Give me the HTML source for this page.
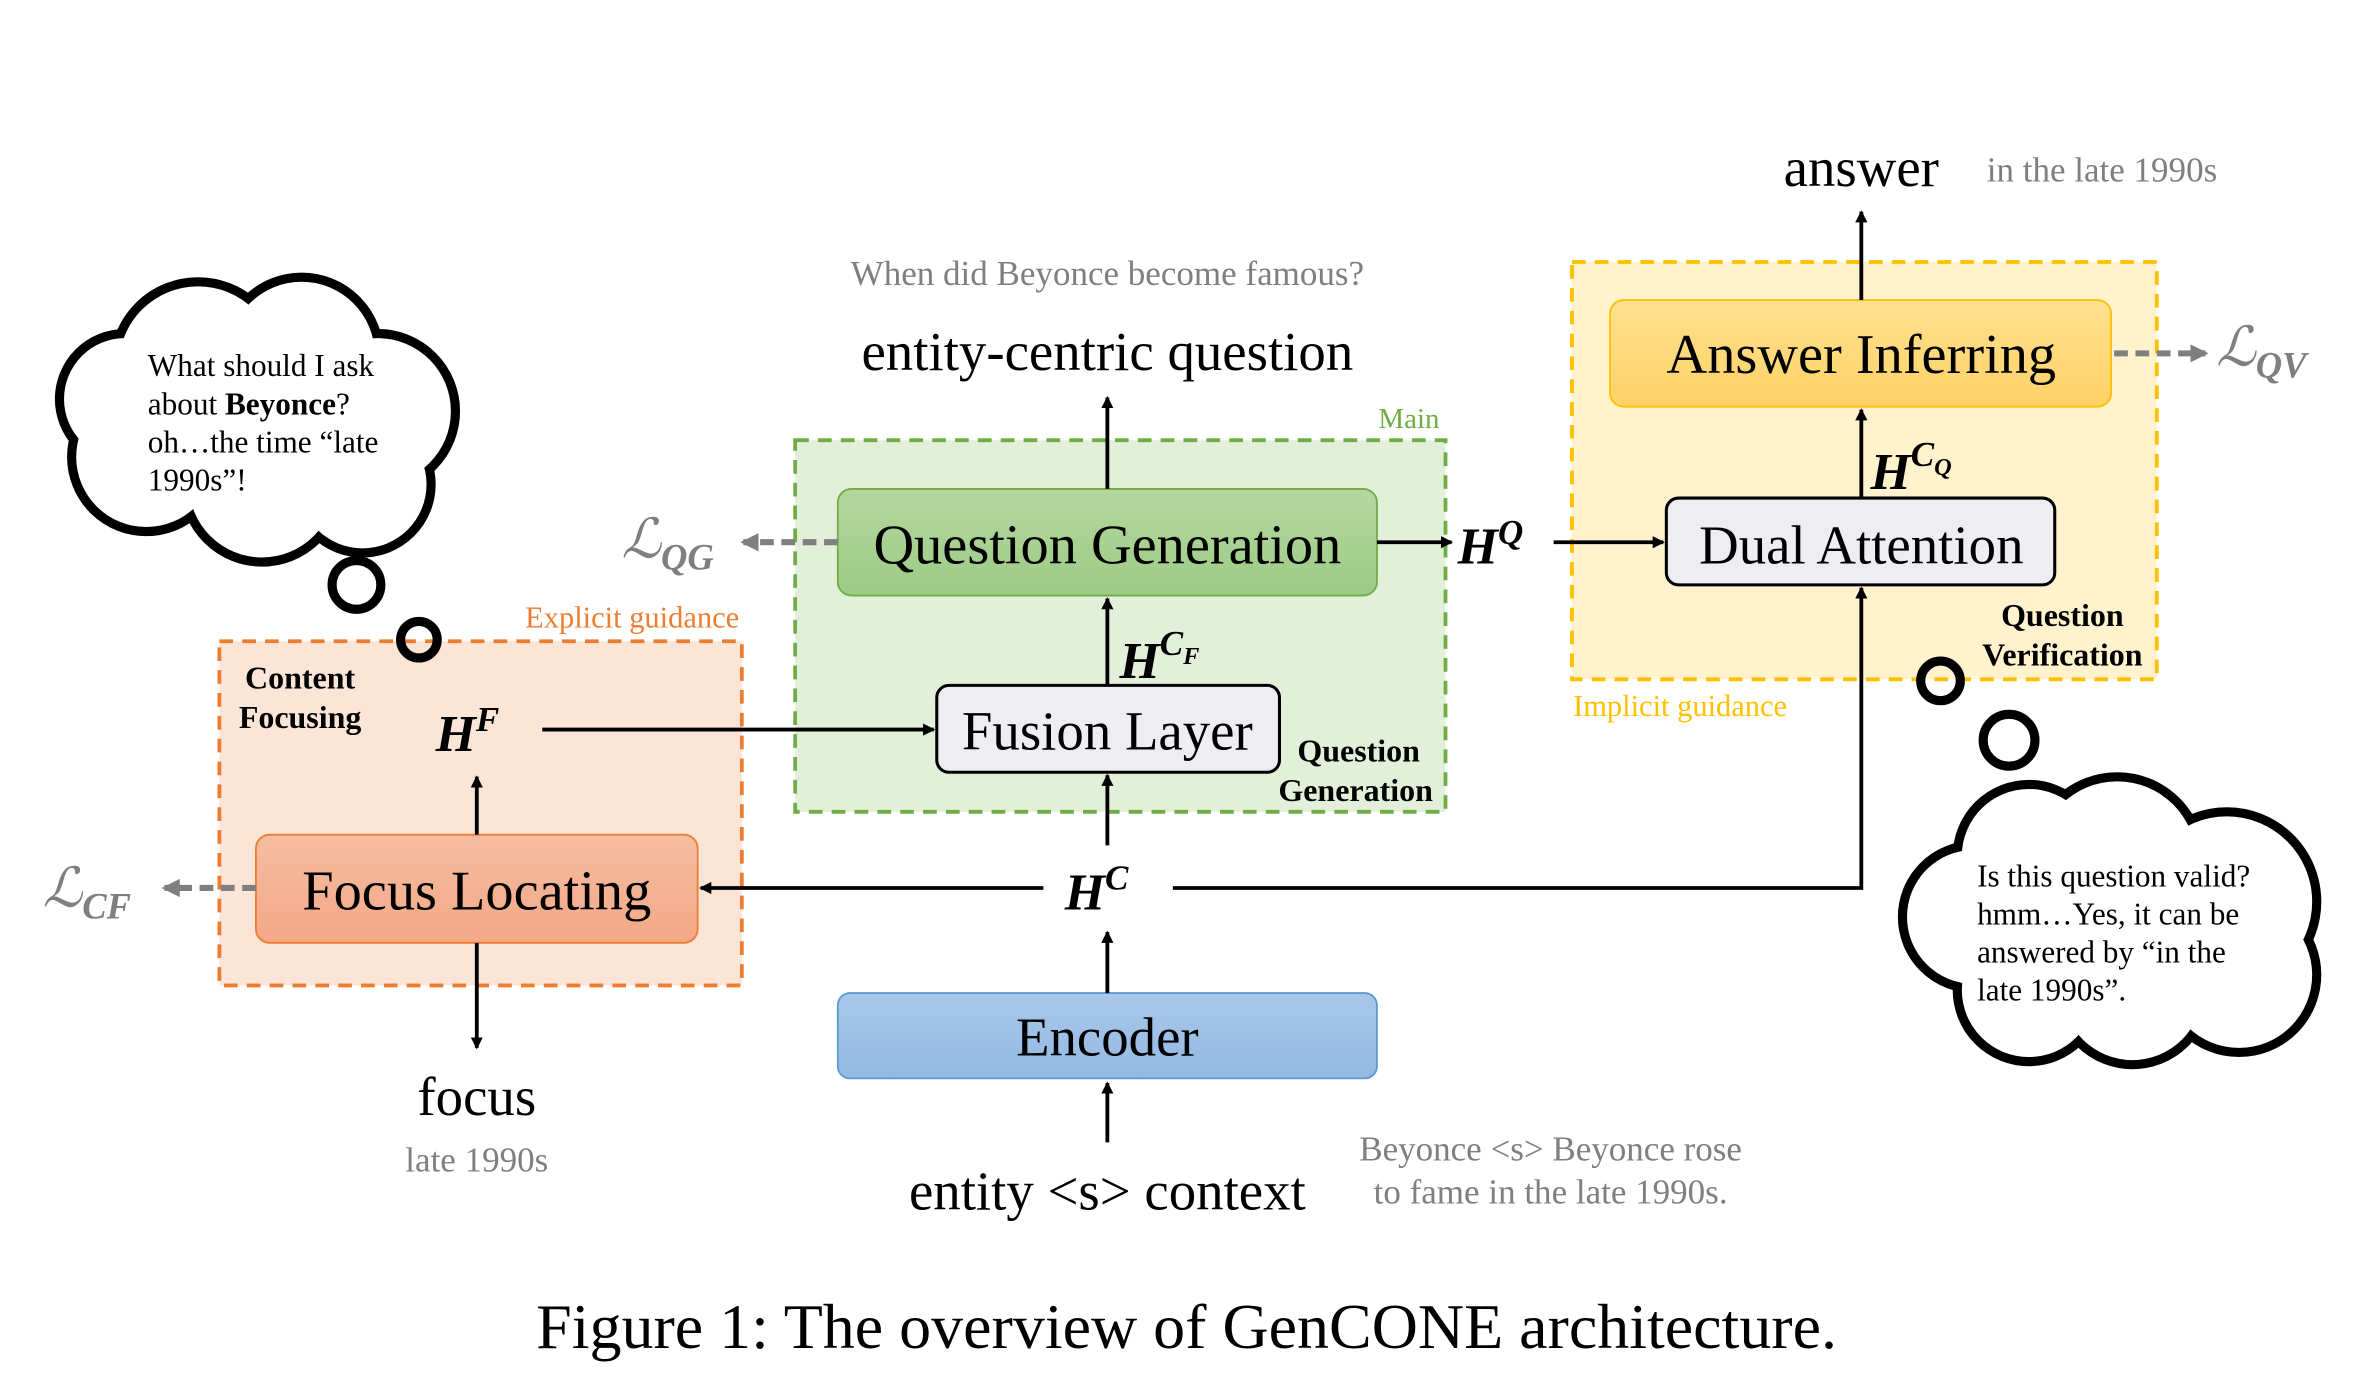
<!DOCTYPE html>
<html><head><meta charset="utf-8"><style>
html,body{margin:0;padding:0;background:#fff;}
svg{display:block;}
text{font-family:"Liberation Serif",serif;}
</style></head><body>
<svg width="2364" height="1383" viewBox="0 0 1552 908" xmlns="http://www.w3.org/2000/svg">
<defs>
<marker id="a" markerWidth="8" markerHeight="8" refX="7" refY="4" orient="auto" markerUnits="userSpaceOnUse"><path d="M0,0 L8,4 L0,8 z" fill="#000"/></marker>
<marker id="g" markerWidth="12" markerHeight="12" refX="10" refY="6" orient="auto" markerUnits="userSpaceOnUse"><path d="M0,0 L12,6 L0,12 z" fill="#7f7f7f"/></marker>
<linearGradient id="gq" x1="0" y1="0" x2="0" y2="1"><stop offset="0" stop-color="#b5d7a0"/><stop offset="1" stop-color="#9ccb84"/></linearGradient>
<linearGradient id="go" x1="0" y1="0" x2="0" y2="1"><stop offset="0" stop-color="#f5bda2"/><stop offset="1" stop-color="#f4a886"/></linearGradient>
<linearGradient id="gb" x1="0" y1="0" x2="0" y2="1"><stop offset="0" stop-color="#a9c8ea"/><stop offset="1" stop-color="#93b8e2"/></linearGradient>
<linearGradient id="gy" x1="0" y1="0" x2="0" y2="1"><stop offset="0" stop-color="#ffe08f"/><stop offset="1" stop-color="#ffd266"/></linearGradient>
</defs>

<rect x="522" y="289" width="427" height="244" fill="#e2efd9" stroke="#70ad47" stroke-width="2.5" stroke-dasharray="9,6"/>
<rect x="144" y="421" width="343" height="226" fill="#fbe5d6" stroke="#ed7d31" stroke-width="2.5" stroke-dasharray="9,6"/>
<rect x="1032" y="172" width="384" height="274" fill="#fff2cc" stroke="#ffc000" stroke-width="2.5" stroke-dasharray="9,6"/>

<text x="925" y="281" font-size="19" fill="#70ad47" text-anchor="middle">Main</text>
<text x="415" y="412" font-size="20" fill="#ed7d31" text-anchor="middle">Explicit guidance</text>
<text x="1103" y="470" font-size="20" fill="#ffc000" text-anchor="middle">Implicit guidance</text>

<rect x="550" y="321" width="354" height="70" rx="9" fill="url(#gq)" stroke="#70ad47" stroke-width="1.2"/>
<text x="727" y="370" font-size="37" text-anchor="middle">Question Generation</text>
<rect x="615" y="450" width="225" height="57" rx="8" fill="#eeedf2" stroke="#000" stroke-width="2"/>
<text x="727" y="492" font-size="36" text-anchor="middle">Fusion Layer</text>
<rect x="168" y="548" width="290" height="71" rx="9" fill="url(#go)" stroke="#ed7d31" stroke-width="1.2"/>
<text x="313" y="597" font-size="37" text-anchor="middle">Focus Locating</text>
<rect x="550" y="652" width="354" height="56" rx="8" fill="url(#gb)" stroke="#5b9bd5" stroke-width="1.2"/>
<text x="727" y="693" font-size="36" text-anchor="middle">Encoder</text>
<rect x="1057" y="197" width="329" height="70" rx="9" fill="url(#gy)" stroke="#ffc000" stroke-width="1.2"/>
<text x="1222" y="245" font-size="37" text-anchor="middle">Answer Inferring</text>
<rect x="1094" y="327" width="255" height="57" rx="8" fill="#eeedf2" stroke="#000" stroke-width="2"/>
<text x="1222" y="370" font-size="36" text-anchor="middle">Dual Attention</text>

<g font-size="21" font-weight="bold" text-anchor="middle">
<text x="197" y="452">Content</text><text x="197" y="478">Focusing</text>
<text x="892" y="500">Question</text><text x="890" y="526">Generation</text>
<text x="1354" y="411">Question</text><text x="1354" y="437">Verification</text>
</g>

<g font-weight="bold" font-style="italic" font-size="34">
<text x="286" y="493">H<tspan font-size="23" dy="-13">F</tspan></text>
<text x="699" y="597">H<tspan font-size="23" dy="-13">C</tspan></text>
<text x="735" y="445">H<tspan font-size="23" dy="-15">C</tspan><tspan font-size="16" dy="6">F</tspan></text>
<text x="957" y="370">H<tspan font-size="23" dy="-13">Q</tspan></text>
<text x="1228" y="321">H<tspan font-size="23" dy="-15">C</tspan><tspan font-size="16" dy="6">Q</tspan></text>
</g>
<g fill="#7f7f7f" font-style="italic" font-size="36">
<text x="408" y="366">ℒ<tspan font-size="24" font-weight="bold" dy="8">QG</tspan></text>
<text x="28" y="595">ℒ<tspan font-size="24" font-weight="bold" dy="8">CF</tspan></text>
<text x="1455" y="240">ℒ<tspan font-size="24" font-weight="bold" dy="8">QV</tspan></text>
</g>

<text x="727" y="243" font-size="36" text-anchor="middle">entity-centric question</text>
<text x="727" y="187" font-size="23" fill="#7f7f7f" text-anchor="middle">When did Beyonce become famous?</text>
<text x="1222" y="122" font-size="36" text-anchor="middle">answer</text>
<text x="1380" y="119" font-size="23" fill="#7f7f7f" text-anchor="middle">in the late 1990s</text>
<text x="313" y="732" font-size="36" text-anchor="middle">focus</text>
<text x="313" y="769" font-size="23" fill="#7f7f7f" text-anchor="middle">late 1990s</text>
<text x="727" y="794" font-size="36" text-anchor="middle">entity &lt;s&gt; context</text>
<text x="1018" y="762" font-size="23" fill="#7f7f7f" text-anchor="middle">Beyonce &lt;s&gt; Beyonce rose</text>
<text x="1018" y="790" font-size="23" fill="#7f7f7f" text-anchor="middle">to fame in the late 1990s.</text>
<text x="779" y="885" font-size="42" text-anchor="middle">Figure 1: The overview of GenCONE architecture.</text>

<g stroke="#000" stroke-width="2.5" fill="none">
<line x1="727" y1="750" x2="727" y2="711" marker-end="url(#a)"/>
<line x1="727" y1="652" x2="727" y2="612" marker-end="url(#a)"/>
<line x1="727" y1="555" x2="727" y2="509" marker-end="url(#a)"/>
<line x1="727" y1="450" x2="727" y2="393" marker-end="url(#a)"/>
<line x1="727" y1="321" x2="727" y2="261" marker-end="url(#a)"/>
<line x1="685" y1="583" x2="460" y2="583" marker-end="url(#a)"/>
<polyline points="770,583 1222,583 1222,386" marker-end="url(#a)"/>
<line x1="356" y1="479" x2="613" y2="479" marker-end="url(#a)"/>
<line x1="313" y1="548" x2="313" y2="510" marker-end="url(#a)"/>
<line x1="313" y1="619" x2="313" y2="688" marker-end="url(#a)"/>
<line x1="904" y1="356" x2="953" y2="356" marker-end="url(#a)"/>
<line x1="1020" y1="356" x2="1092" y2="356" marker-end="url(#a)"/>
<line x1="1222" y1="327" x2="1222" y2="269" marker-end="url(#a)"/>
<line x1="1222" y1="197" x2="1222" y2="139" marker-end="url(#a)"/>
</g>
<g stroke="#7f7f7f" stroke-width="4" stroke-dasharray="9,5" fill="none">
<line x1="550" y1="356" x2="488" y2="356" marker-end="url(#g)"/>
<line x1="168" y1="583" x2="108" y2="583" marker-end="url(#g)"/>
<line x1="1388" y1="232" x2="1448" y2="232" marker-end="url(#g)"/>
</g>

<g stroke="#000" stroke-width="12">
<circle cx="130" cy="240" r="52"/><circle cx="198" cy="233" r="48"/><circle cx="248" cy="270" r="48"/>
<circle cx="238" cy="318" r="42"/><circle cx="172" cy="318" r="48"/><circle cx="96" cy="300" r="46"/><circle cx="82" cy="262" r="40"/>
</g>
<g fill="#fff">
<circle cx="130" cy="240" r="52"/><circle cx="198" cy="233" r="48"/><circle cx="248" cy="270" r="48"/>
<circle cx="238" cy="318" r="42"/><circle cx="172" cy="318" r="48"/><circle cx="96" cy="300" r="46"/><circle cx="82" cy="262" r="40"/>
<rect x="95" y="230" width="160" height="100"/>
</g>
<g font-size="20.5">
<text x="97" y="247">What should I ask</text>
<text x="97" y="272">about <tspan font-weight="bold">Beyonce</tspan>?</text>
<text x="97" y="297">oh…the time “late</text>
<text x="97" y="322">1990s”!</text>
</g>
<circle cx="234" cy="384" r="16" fill="none" stroke="#000" stroke-width="6"/>
<circle cx="275" cy="420" r="12" fill="none" stroke="#000" stroke-width="6"/>

<g stroke="#000" stroke-width="12">
<circle cx="1390" cy="565" r="52"/><circle cx="1462" cy="592" r="56"/><circle cx="1470" cy="640" r="48"/>
<circle cx="1400" cy="650" r="46"/><circle cx="1332" cy="650" r="44"/><circle cx="1296" cy="602" r="44"/><circle cx="1332" cy="562" r="44"/>
</g>
<g fill="#fff">
<circle cx="1390" cy="565" r="52"/><circle cx="1462" cy="592" r="56"/><circle cx="1470" cy="640" r="48"/>
<circle cx="1400" cy="650" r="46"/><circle cx="1332" cy="650" r="44"/><circle cx="1296" cy="602" r="44"/><circle cx="1332" cy="562" r="44"/>
<rect x="1300" y="560" width="180" height="100"/>
</g>
<g font-size="20.5">
<text x="1298" y="582">Is this question valid?</text>
<text x="1298" y="607">hmm…Yes, it can be</text>
<text x="1298" y="632">answered by “in the</text>
<text x="1298" y="657">late 1990s”.</text>
</g>
<circle cx="1274" cy="447" r="13" fill="none" stroke="#000" stroke-width="6"/>
<circle cx="1319" cy="486" r="17" fill="none" stroke="#000" stroke-width="6"/>
</svg>
</body></html>
